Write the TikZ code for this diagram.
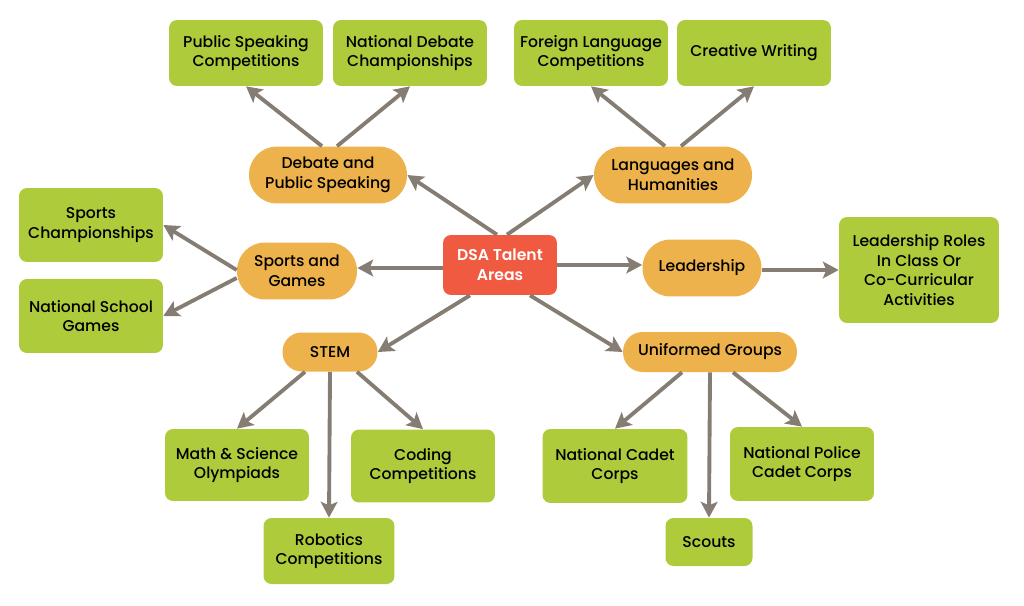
\documentclass[tikz,border=0pt]{standalone}
\usepackage{fontspec}
\setmainfont{Poppins}[UprightFont=* Medium, BoldFont=* SemiBold]
\usetikzlibrary{arrows.meta}
\definecolor{hubred}{HTML}{F05A40}
\definecolor{topicorange}{HTML}{EDB24B}
\definecolor{itemgreen}{HTML}{AECB3B}
\definecolor{linkgray}{HTML}{857D73}
\tikzset{
    hub/.style={fill=hubred, text=white, font=\bfseries\fontsize{8.9}{11.2}\selectfont, rounded corners=0.16cm, align=center, minimum width=2.28cm, minimum height=1.2cm},
    topic/.style={fill=topicorange, rounded corners=0.56cm, align=center, font=\fontsize{8.9}{11.2}\selectfont, minimum height=1.14cm},
    item/.style={fill=itemgreen, rounded corners=0.16cm, align=center, font=\fontsize{8.9}{11.2}\selectfont, minimum width=2.88cm, minimum height=1.46cm},
    link/.style={draw=linkgray, line width=2.2pt, -{Stealth[length=9pt,width=9.5pt,inset=2pt]}}
}
\begin{document}
\begin{tikzpicture}[x=0.02cm, y=-0.02cm]
    \useasboundingbox (0,0) rectangle (1024,605);
    % centre
    \node[hub] (dsa) at (500,265) {DSA Talent\\Areas};
    % talent areas
    \node[topic, minimum width=3.16cm] (debate) at (328,175) {Debate and\\Public Speaking};
    \node[topic, minimum width=3.16cm] (lang) at (673,175) {Languages and\\Humanities};
    \node[topic, minimum width=2.4cm] (sports) at (297,271) {Sports and\\Games};
    \node[topic, minimum width=2.38cm] (lead) at (702,268) {Leadership};
    \node[topic, minimum width=1.9cm, minimum height=0.78cm, rounded corners=0.38cm] (stem) at (330,352) {STEM};
    \node[topic, minimum width=3.48cm, minimum height=0.8cm, rounded corners=0.39cm] (uniform) at (710,352) {Uniformed Groups};
    % debate items
    \node[item, minimum width=3.08cm, minimum height=1.32cm] (speakcomp) at (246,53) {Public Speaking\\Competitions};
    \node[item, minimum width=3.08cm, minimum height=1.32cm] (debatechamp) at (410,53) {National Debate\\Championships};
    % language items
    \node[item, minimum width=3.08cm, minimum height=1.32cm] (langcomp) at (591,53) {Foreign Language\\Competitions};
    \node[item, minimum width=3.08cm, minimum height=1.32cm] (writing) at (754,53) {Creative Writing};
    % sports items
    \node[item, minimum height=1.48cm] (sportschamp) at (91,225) {Sports\\Championships};
    \node[item, minimum height=1.48cm] (schoolgames) at (91,316) {National School\\Games};
    % leadership item
    \node[item, minimum width=3.2cm, minimum height=2.12cm] (roles) at (919,270) {Leadership Roles\\In Class Or\\Co-Curricular\\Activities};
    % stem items
    \node[item, minimum height=1.44cm] (olympiad) at (237,465) {Math \& Science\\Olympiads};
    \node[item, minimum height=1.46cm] (coding) at (423,466) {Coding\\Competitions};
    \node[item, minimum width=2.62cm, minimum height=1.32cm] (robotics) at (329,551) {Robotics\\Competitions};
    % uniformed items
    \node[item, minimum width=2.9cm, minimum height=1.48cm] (cadet) at (615,466) {National Cadet\\Corps};
    \node[item, minimum height=1.48cm] (police) at (802,464) {National Police\\Cadet Corps};
    \node[item, minimum width=1.74cm, minimum height=0.96cm] (scouts) at (709,542) {Scouts};
    % links from centre
    \draw[link] ([xshift=-0.06cm]dsa.north) -- (debate.east);
    \draw[link] ([xshift=0.14cm]dsa.north) -- (lang.west);
    \draw[link] ([yshift=-0.06cm]dsa.west) -- ([yshift=-0.06cm]dsa.west -| sports.east);
    \draw[link] (dsa.east) -- (dsa.east -| lead.west);
    \draw[link] ([xshift=-0.6cm]dsa.south) -- (stem.east);
    \draw[link] ([xshift=0.6cm]dsa.south) -- (uniform.west);
    % links to items
    \draw[link] ([xshift=-0.12cm]debate.north) -- (speakcomp.south);
    \draw[link] ([xshift=0.18cm]debate.north) -- (debatechamp.south);
    \draw[link] ([xshift=-0.16cm]lang.north) -- (langcomp.south);
    \draw[link] ([xshift=0.16cm]lang.north) -- (writing.south);
    \draw[link] ([yshift=0.02cm]sports.west) -- (sportschamp.east);
    \draw[link] ([yshift=-0.14cm]sports.west) -- (schoolgames.east);
    \draw[link] (lead.east |- roles.west) -- (roles.west);
    \draw[link] ([xshift=-0.5cm]stem.south) -- (olympiad.north);
    \draw[link] (stem.south) -- (robotics.north);
    \draw[link] ([xshift=0.54cm]stem.south) -- (coding.north);
    \draw[link] ([xshift=-0.56cm]uniform.south) -- (cadet.north);
    \draw[link] (uniform.south) -- (scouts.north);
    \draw[link] ([xshift=0.46cm]uniform.south) -- (police.north);
\end{tikzpicture}
\end{document}
